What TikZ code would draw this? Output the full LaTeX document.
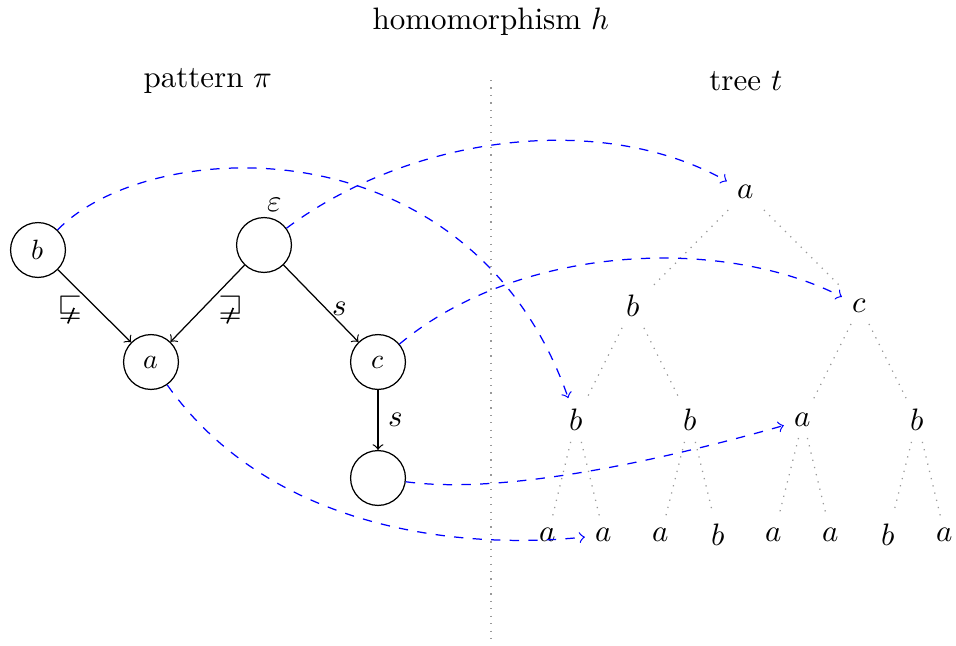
\documentclass[tikz,border=0pt]{standalone}
\usepackage{unicode-math}
\setmathfont{Latin Modern Math}
\newcommand{\mysqsubne}{\mathrel{\ooalign{$\sqsubseteq$\cr\hidewidth\raisebox{-0.55ex}{\rotatebox{-22}{\rule{0.55pt}{1.25ex}}}\hidewidth\cr}}}
\newcommand{\mysqsupne}{\mathrel{\ooalign{$\sqsupseteq$\cr\hidewidth\raisebox{-0.55ex}{\rotatebox{-22}{\rule{0.55pt}{1.25ex}}}\hidewidth\cr}}}
\begin{document}
\begin{tikzpicture}[x=0.3226pt,y=0.3226pt,
  pnode/.style={circle,draw,minimum size=17.7pt,inner sep=0pt,font=\small},
  tnode/.style={},
  tedge/.style={gray!80,dotted},
  hom/.style={blue,dashed,->},
  pedge/.style={->},
  elabel/.style={midway,anchor=center}]
\useasboundingbox (0,0) rectangle (956,-645);
% titles
\node (title) at (491,-22) {homomorphism $h$};
\node (ptitle) at (208,-81) {pattern $\pi$};
\node (ttitle) at (746,-81) {tree $t$};
% separator
\coordinate (sepT) at (491,-80);
\coordinate (sepB) at (491,-645);
\draw[tedge] (sepT) -- (sepB);
% pattern
\node[pnode] (pb) at (38,-250) {$b$};
\node[pnode,label={[xshift=3.5pt,yshift=-2pt]above:$\varepsilon$}] (pe) at (264,-245) {};
\node[pnode] (pa) at (151,-362) {$a$};
\node[pnode] (pc) at (378,-362) {$c$};
\node[pnode] (pd) at (378,-478) {};
\draw[pedge] (pb) -- node[elabel,xshift=-7.6pt,yshift=-1.3pt] {$\mysqsubne$} (pa);
\draw[pedge] (pe) -- node[elabel,xshift=7.3pt,yshift=-2.1pt] {$\mysqsupne$} (pa);
\draw[pedge] (pe) -- node[elabel,xshift=6.1pt,yshift=-1.8pt] {$s$} (pc);
\draw[pedge] (pc) -- node[right] {$s$} (pd);
% tree
\node[tnode] (t0) at (746,-192) {$a$};
\node[tnode] (t1) at (633,-306) {$b$};
\node[tnode] (t2) at (860,-306) {$c$};
\node[tnode] (t11) at (576,-420) {$b$};
\node[tnode] (t12) at (690,-420) {$b$};
\node[tnode] (t21) at (803,-420) {$a$};
\node[tnode] (t22) at (917,-420) {$b$};
\node[tnode] (t111) at (548,-535) {$a$};
\node[tnode] (t112) at (604,-535) {$a$};
\node[tnode] (t121) at (661,-535) {$a$};
\node[tnode] (t122) at (718,-535) {$b$};
\node[tnode] (t211) at (774,-535) {$a$};
\node[tnode] (t212) at (831,-535) {$a$};
\node[tnode] (t221) at (888,-535) {$b$};
\node[tnode] (t222) at (945,-535) {$a$};
\draw[tedge] (t0) -- (t1);
\draw[tedge] (t0) -- (t2);
\draw[tedge] (t1) -- (t11);
\draw[tedge] (t1) -- (t12);
\draw[tedge] (t2) -- (t21);
\draw[tedge] (t2) -- (t22);
\draw[tedge] (t11) -- (t111);
\draw[tedge] (t11) -- (t112);
\draw[tedge] (t12) -- (t121);
\draw[tedge] (t12) -- (t122);
\draw[tedge] (t21) -- (t211);
\draw[tedge] (t21) -- (t212);
\draw[tedge] (t22) -- (t221);
\draw[tedge] (t22) -- (t222);
% homomorphism
\draw[hom] (pb) .. controls (150,-135) and (470,-120) .. (t11);
\draw[hom] (pe) .. controls (410,-136) and (600,-110) .. (t0);
\draw[hom] (pc) .. controls (518,-245) and (720,-235) .. (t2);
\draw[hom] (pd) .. controls (511,-496) and (680,-455) .. (t21);
\draw[hom] (pa) .. controls (270,-530) and (460,-550) .. (t112);
\end{tikzpicture}
\end{document}
